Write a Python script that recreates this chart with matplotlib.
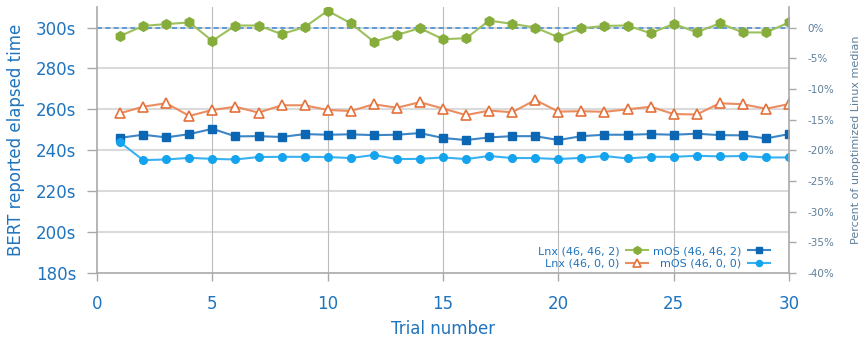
import matplotlib
matplotlib.use("Agg")
import matplotlib.pyplot as plt
from matplotlib.ticker import FuncFormatter

trials = list(range(1, 31))

mos_46_46_2 = [295.9, 300.8, 301.7, 302.5, 293.5, 301.0, 301.0, 296.8, 300.2, 308.2,
               302.1, 293.1, 296.4, 299.7, 294.3, 294.8, 303.4, 301.8, 300.0, 295.3,
               299.7, 300.8, 301.0, 297.2, 301.8, 297.7, 302.1, 297.6, 297.6, 302.5]
lnx_46_0_0 = [258.1, 261.3, 263.0, 256.8, 259.7, 261.3, 258.4, 262.0, 262.0, 259.7,
              259.2, 262.5, 260.8, 263.5, 260.4, 257.2, 259.4, 258.6, 264.6, 258.9,
              259.1, 258.8, 260.0, 261.3, 257.7, 257.5, 263.0, 262.5, 260.3, 262.6]
lnx_46_46_2 = [246.1, 247.6, 246.3, 247.9, 250.5, 246.8, 246.9, 246.5, 247.9, 247.6,
               247.8, 247.4, 247.6, 248.4, 246.0, 245.0, 246.3, 246.9, 246.9, 245.0,
               246.9, 247.6, 247.6, 247.9, 247.6, 248.1, 247.4, 247.3, 245.8, 247.9]
mos_46_0_0 = [243.9, 235.2, 235.5, 236.3, 235.8, 235.5, 236.7, 236.8, 236.8, 236.7,
              236.2, 237.7, 235.7, 235.8, 236.5, 235.7, 237.2, 236.2, 236.2, 235.7,
              236.3, 237.2, 236.0, 236.8, 236.8, 237.3, 237.0, 237.2, 236.5, 236.5]
median_ref = 300.0

labels = ["Lnx (46, 46, 2)", "Lnx (46, 0, 0)", "mOS (46, 46, 2)", "mOS (46, 0, 0)"]
left_ticks = [180, 200, 220, 240, 260, 280, 300]
right_ticks = [0, -5, -10, -15, -20, -25, -30, -35, -40]
x_ticks = [0, 5, 10, 15, 20, 25, 30]

BLUE_TXT = "#1f74bd"
GRAY_TXT = "#5f7f99"
SPINE = "#a9a9a9"

fig = plt.figure(figsize=(8.68, 3.38), dpi=100)
ax = fig.add_axes([0.1118, 0.1923, 0.7972, 0.7867])

ylo, yhi = 180, 310
ax.set_xlim(0, 30)
ax.set_ylim(ylo, yhi)

# grid
for y in left_ticks[1:]:
    ax.axhline(y, color="#dadada", lw=1.5, zorder=0)
for x in x_ticks[1:-1]:
    ax.axvline(x, color="#bcbcbc", lw=0.8, zorder=0)

ax.axhline(median_ref, color="#4a8fd6", lw=1.2, ls=(0, (3, 2)), zorder=1)

h_green, = ax.plot(trials, mos_46_46_2, color="#9cc05c", lw=1.5, marker="h",
                   ms=7, mfc="#86ad3c", mec="#86ad3c", zorder=3)
h_orange, = ax.plot(trials, lnx_46_0_0, color="#ea8d60", lw=1.5, marker="^",
                    ms=7, mfc="white", mec="#e4703a", mew=1.2, zorder=3)
h_dblue, = ax.plot(trials, lnx_46_46_2, color="#3d86c6", lw=1.5, marker="s",
                   ms=5.5, mfc="#0b67b3", mec="#0b67b3", zorder=3)
h_lblue, = ax.plot(trials, mos_46_0_0, color="#38b1f0", lw=1.5, marker="o",
                   ms=5.5, mfc="#14a3ee", mec="#14a3ee", zorder=3)

ax.set_xticks(x_ticks)
ax.set_yticks(left_ticks)
ax.yaxis.set_major_formatter(FuncFormatter(lambda v, p: f"{int(v)}s"))
ax.tick_params(axis="y", colors=SPINE, labelcolor=BLUE_TXT, labelsize=12,
               length=7, width=1, pad=8, direction="out")
ax.tick_params(axis="x", colors=SPINE, labelcolor=BLUE_TXT, labelsize=12,
               length=6, width=1, pad=10, direction="out")
for s in ["top", "right"]:
    ax.spines[s].set_visible(False)
for s in ["left", "bottom"]:
    ax.spines[s].set_color(SPINE)
    ax.spines[s].set_linewidth(1.2)

ax.set_xlabel("Trial number", color=BLUE_TXT, fontsize=12, labelpad=5)
ax.set_ylabel("BERT reported elapsed time", color=BLUE_TXT, fontsize=12, labelpad=8)

ax2 = ax.twinx()
ax2.set_ylim((ylo / median_ref - 1) * 100, (yhi / median_ref - 1) * 100)
ax2.set_yticks(right_ticks)
ax2.yaxis.set_major_formatter(FuncFormatter(lambda v, p: f"{int(round(v))}%".replace("\u2212", "-")))
ax2.tick_params(axis="y", colors=SPINE, labelcolor=GRAY_TXT, labelsize=7.5,
                length=5, width=1, pad=8)
for s in ["top", "left", "bottom"]:
    ax2.spines[s].set_visible(False)
ax2.spines["right"].set_color(SPINE)
ax2.spines["right"].set_linewidth(1.2)
ax2.set_ylabel("Percent of unoptimized Linux median", color=GRAY_TXT, fontsize=8, labelpad=12)

leg = ax.legend([h_green, h_orange, h_dblue, h_lblue], labels, ncol=2,
                loc="lower right", bbox_to_anchor=(0.979, 0.0), borderaxespad=0,
                frameon=False, markerfirst=False, fontsize=8, handlelength=2.0,
                handletextpad=0.6, columnspacing=0.4, labelspacing=0.2,
                markerscale=0.8)
for t in leg.get_texts():
    t.set_color(BLUE_TXT)

fig.savefig("out.png", dpi=100)
